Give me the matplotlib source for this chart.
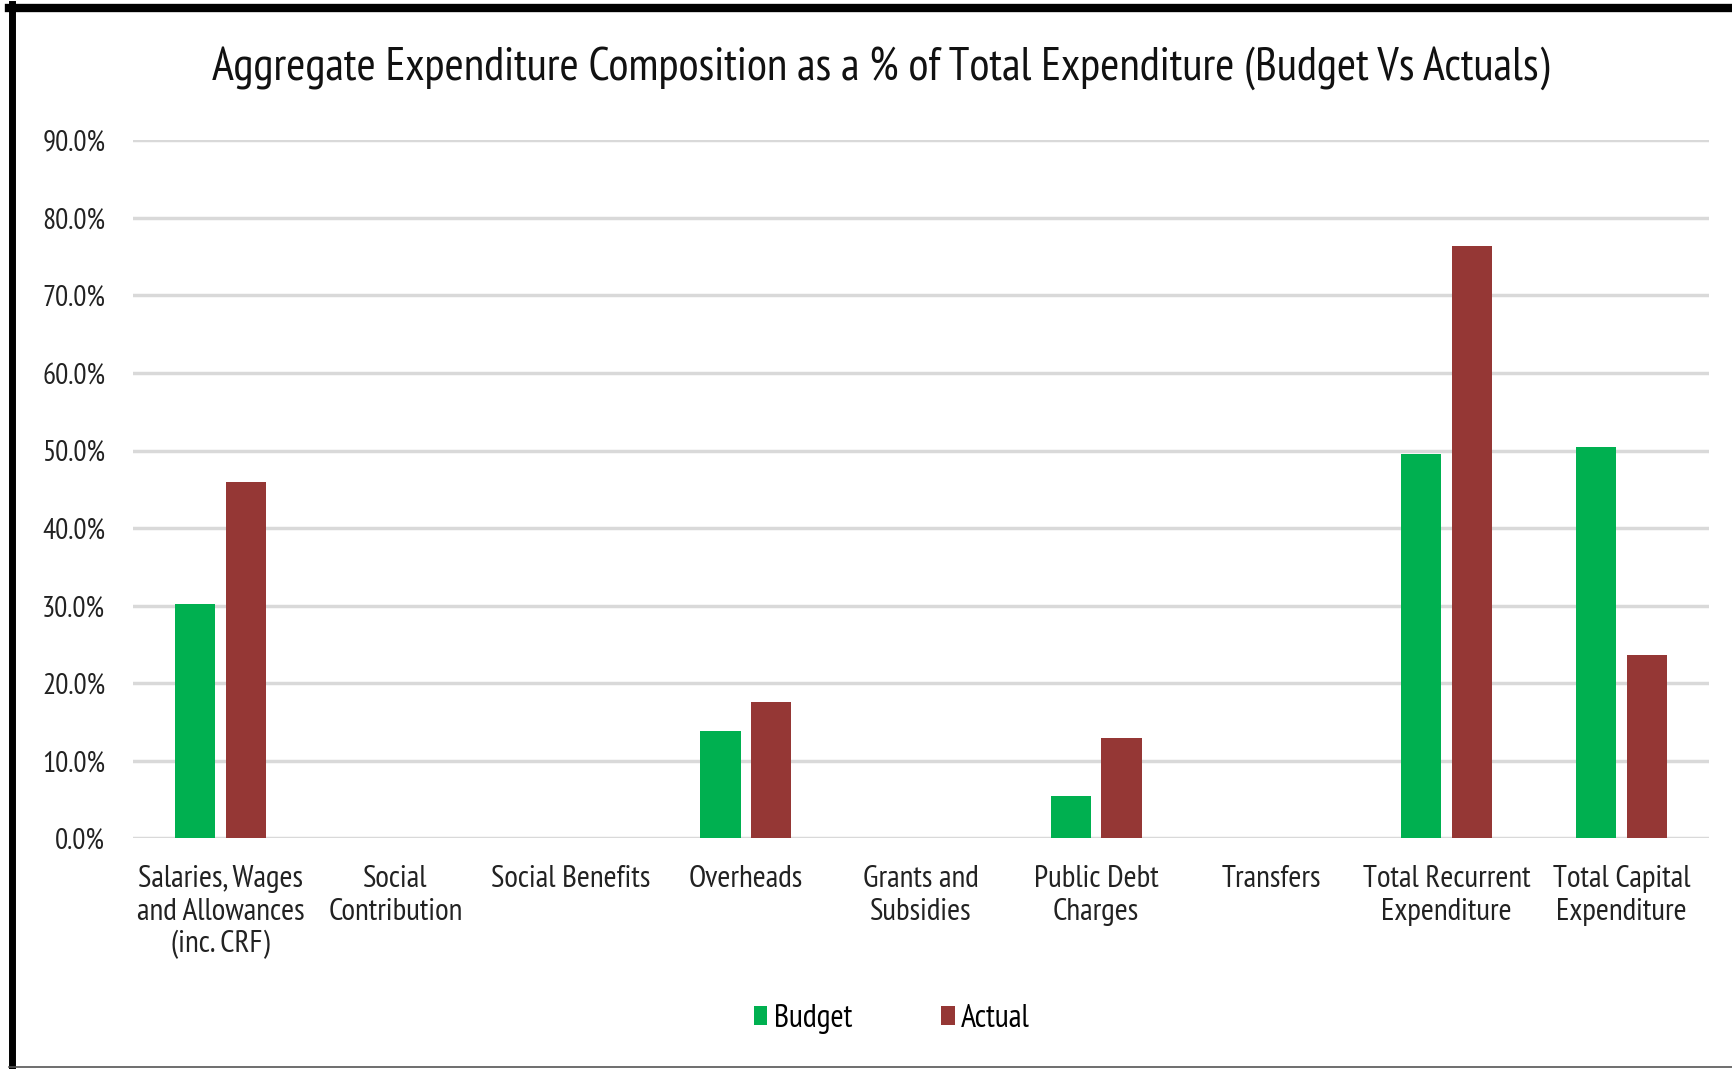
import numpy as np
import matplotlib.pyplot as plt
from matplotlib.lines import Line2D
from matplotlib.patches import Patch

plt.rcParams['font.family'] = ['PT Sans Narrow', 'DejaVu Sans']

categories = ['Salaries, Wages\nand Allowances\n(inc. CRF)', 'Social\nContribution',
              'Social Benefits', 'Overheads', 'Grants and\nSubsidies', 'Public Debt\nCharges',
              'Transfers', 'Total Recurrent\nExpenditure', 'Total Capital\nExpenditure']
budget = [30.2, 0.0, 0.0, 13.9, 0.0, 5.5, 0.0, 49.6, 50.4]
actual = [45.9, 0.0, 0.0, 17.6, 0.0, 12.9, 0.0, 76.4, 23.6]
yticks = [0, 10, 20, 30, 40, 50, 60, 70, 80, 90]

green = '#00B050'
red = '#953735'

fig = plt.figure(figsize=(17.33, 10.69), dpi=100)
ax = fig.add_axes([0.0767, 0.2158, 0.9095, 0.6529])

x = np.arange(len(categories))
w = 0.23
off = 0.145
ax.bar(x - off, budget, w, color=green, label='Budget', zorder=3)
ax.bar(x + off, actual, w, color=red, label='Actual', zorder=3)

ax.set_xlim(-0.5, len(categories) - 0.5)
ax.set_ylim(0, 90)
ax.set_yticks(yticks)
ax.set_yticklabels([f'{v:.1f}%' for v in yticks], fontsize=21, color='#222222')
ax.set_xticks(x)
ax.set_xticklabels(categories, fontsize=22.5, color='#222222', linespacing=1.2)
ax.tick_params(axis='both', length=0)
ax.tick_params(axis='y', pad=20)
ax.tick_params(axis='x', pad=19.5)
ax.yaxis.grid(True, color='#d9d9d9', linewidth=2.5, zorder=0)
for s in ax.spines.values():
    s.set_visible(False)

fig.text(0.508, 0.936, 'Aggregate Expenditure Composition as a % of Total Expenditure (Budget Vs Actuals)',
         ha='center', va='center', fontsize=33.3, color='#111111')

handles = [Patch(facecolor=green), Patch(facecolor=red)]
fig.legend(handles, ['Budget', 'Actual'], loc='center', bbox_to_anchor=(0.5147, 0.047),
           ncol=2, frameon=False, fontsize=23, handlelength=0.42, handleheight=0.55,
           handletextpad=0.2, columnspacing=2.8)

# frame edges around the chart
fig.add_artist(Line2D([0.0069, 0.0069], [0, 0.9965], color='black', linewidth=5,
                      transform=fig.transFigure))
fig.add_artist(Line2D([0.0052, 1.0], [0.9925, 0.9925], color='black', linewidth=6,
                      transform=fig.transFigure))
fig.add_artist(Line2D([0.0052, 1.0], [0.0019, 0.0019], color='#555555', linewidth=1.2,
                      transform=fig.transFigure))

fig.savefig('out.png', dpi=100)
